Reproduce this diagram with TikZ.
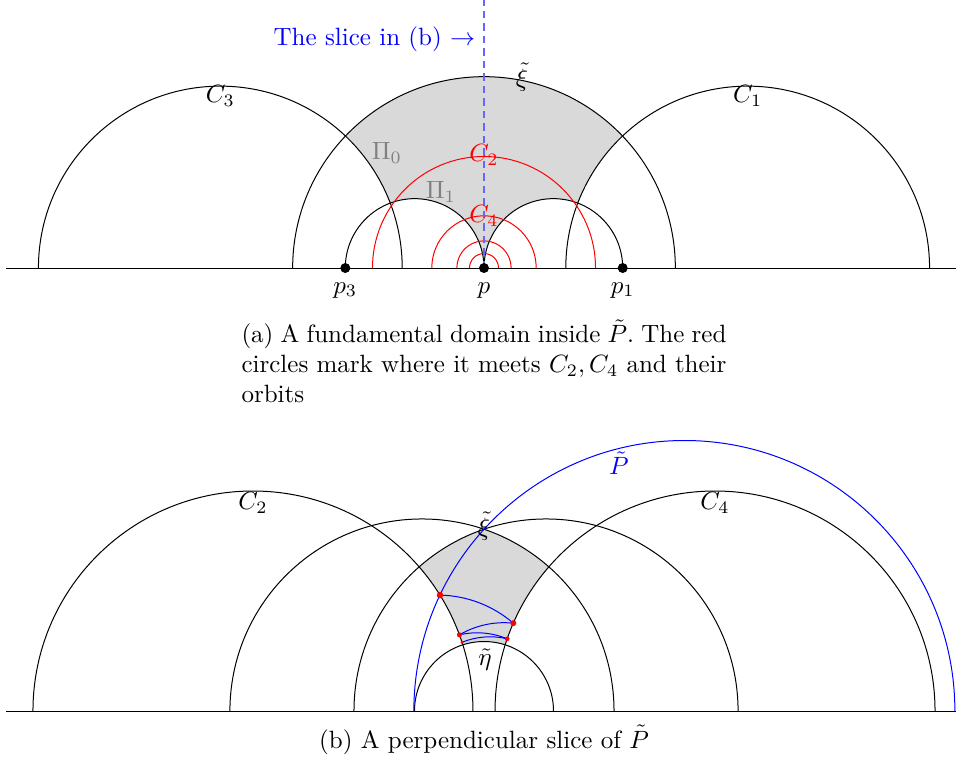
\documentclass[tikz,border=0pt]{standalone}
\usepackage{amsmath}
\usepackage{amssymb}
\usetikzlibrary{positioning}
\colorlet{domfill}{gray!30}
\colorlet{slicecol}{blue!60}

\begin{document}
\begin{tikzpicture}[dot/.style={circle, fill=black, inner sep=0pt, minimum size=4pt}]
  \useasboundingbox (-6.8045,-6.8888) rectangle (6.6358,3.7678);

  % (a) Fundamental domain: shade, then cut away the other discs
  \fill[domfill] (-2.69,0) arc (180:0:2.69) -- cycle;
  \foreach \cx/\rr in {-3.707/2.557, 3.707/2.557, -0.975/0.975, 0.975/0.975} {
    \fill[white] (\cx-\rr,0) arc (180:0:\rr) -- cycle;
  }

  % Boundary line and geodesics
  \draw (-6.72,0) -- (6.7,0);
  \foreach \cx/\rr in {-3.707/2.557, 3.707/2.557, 0/2.69, -0.975/0.975, 0.975/0.975} {
    \draw (\cx-\rr,0) arc (180:0:\rr);
  }

  % Red circles round p
  \foreach \rr in {1.568, 0.734, 0.382, 0.204} {
    \draw[red] (-\rr,0) arc (180:0:\rr);
  }

  % The slice
  \coordinate (slicefoot) at (0,0);
  \coordinate (slicetop) at (0,3.77);
  \draw[slicecol, thick, densely dashed] (slicefoot) -- (slicetop);
  \node[blue, anchor=east] (slicelab) at (0,3.22) {The slice in (b) $\rightarrow$};

  % Points on the line
  \node[dot] (p3) at (-1.95,0) {};
  \node[dot] (p) at (0,0) {};
  \node[dot] (p1) at (1.95,0) {};
  \node[below=0pt of p3] (p3lab) {$p_3$};
  \node[below=0pt of p] (plab) {$p$};
  \node[below=0pt of p1] (p1lab) {$p_1$};

  % Labels
  \node (xia) at (0.534,2.685) {$\tilde{\xi}$};
  \node (c3lab) at (-3.707,2.418) {$C_3$};
  \node (c1lab) at (3.707,2.418) {$C_1$};
  \node[gray] (pi0) at (-1.364,1.617) {$\Pi_0$};
  \node[gray] (pi1) at (-0.605,1.068) {$\Pi_1$};
  \node[red] (c2a) at (0,1.59) {$C_2$};
  \node[red] (c4a) at (0,0.73) {$C_4$};

  \node[text width=194pt, align=justify, anchor=base] (capa) at (0,-1.054)
    {\frenchspacing (a) A fundamental domain inside $\tilde{P}$. The red circles mark where it meets $C_2, C_4$ and their orbits};

  % (b) Perpendicular slice
  \begin{scope}[yshift=-6.228cm]
    \begin{scope}
      \clip (-0.872-2.70,0) arc (180:0:2.70) -- cycle;
      \fill[domfill] (0.872-2.70,0) arc (180:0:2.70) -- cycle;
    \end{scope}
    \foreach \cx/\rr in {-3.248/3.093, 3.248/3.093, 0/0.977} {
      \fill[white] (\cx-\rr,0) arc (180:0:\rr) -- cycle;
    }

    \draw (-6.72,0) -- (6.7,0);
    \foreach \cx/\rr in {-3.248/3.093, 3.248/3.093, -0.872/2.70, 0.872/2.70, 0/0.977} {
      \draw (\cx-\rr,0) arc (180:0:\rr);
    }

    % P tilde and its images
    \draw[blue] (2.817-3.803,0) arc (180:0:3.803);
    \coordinate (d0) at (-0.6186,1.6294);
    \coordinate (d1) at (0.4119,1.2351);
    \coordinate (d2) at (-0.3459,1.0709);
    \coordinate (d3) at (0.326,1.0153);
    \coordinate (d4) at (-0.3093,0.9659);
    \draw[blue] (d0) arc (88.85:49.27:1.6297);
    \draw[blue] (d1) arc (84.03:120.42:1.2418);
    \draw[blue] (d2) arc (103.12:67.41:1.0996);
    \draw[blue] (d3) arc (76.67:112.23:1.0434);
    \foreach \pt/\sz in {d0/1.3pt, d1/1.2pt, d2/1pt, d3/0.95pt, d4/0.65pt} {
      \fill[red] (\pt) circle (\sz);
    }

    \node (c2b) at (-3.248,2.924) {$C_2$};
    \node (c4b) at (3.248,2.924) {$C_4$};
    \node[blue] (ptlab) at (1.898,3.487) {$\tilde{P}$};
    \node (xib) at (0,2.601) {$\tilde{\xi}$};
    \node (etab) at (0.014,0.717) {$\tilde{\eta}$};
  \end{scope}

  \node[anchor=base] (capb) at (0,-6.748) {(b) A perpendicular slice of $\tilde{P}$};
\end{tikzpicture}
\end{document}
